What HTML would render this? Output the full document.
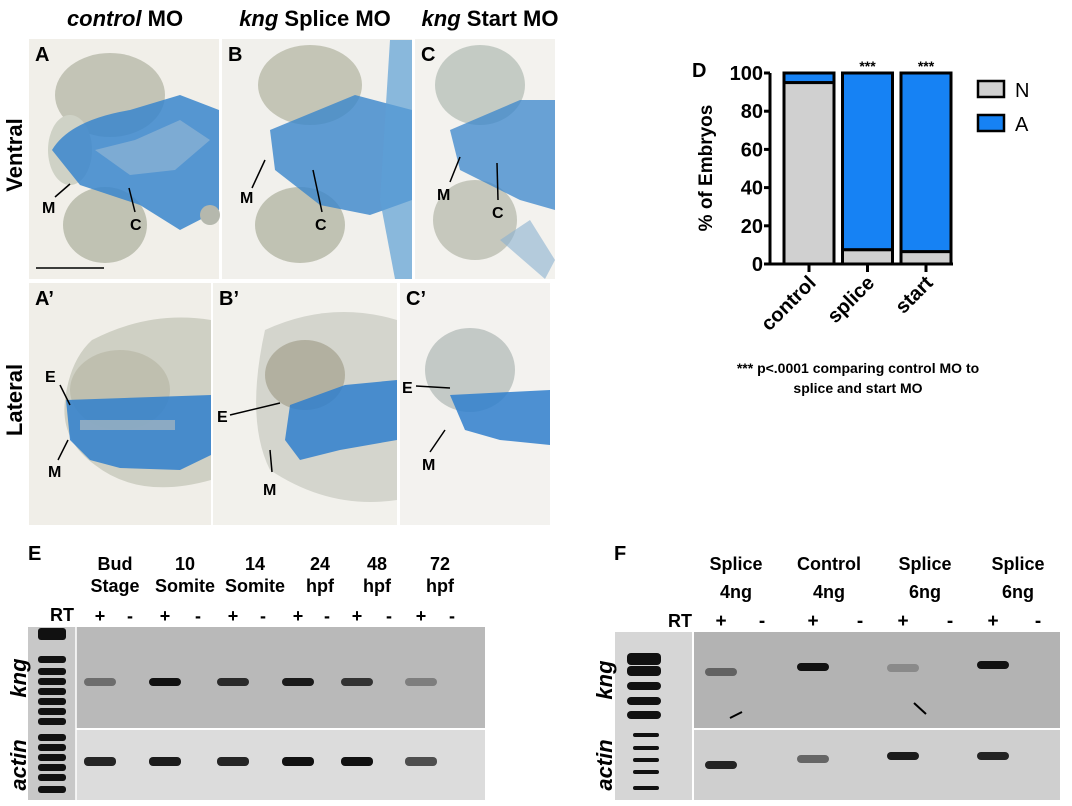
<!DOCTYPE html>
<html><head><meta charset="utf-8"><style>
html,body{margin:0;padding:0;background:#fff;width:1072px;height:806px;overflow:hidden}
svg{display:block;font-family:"Liberation Sans",Arial,sans-serif}
</style></head><body>
<svg id="fig" width="1072" height="806" viewBox="0 0 1072 806">
<!-- column headers -->
<g font-size="22" font-weight="bold" text-anchor="middle">
<text x="125" y="26"><tspan font-style="italic">control</tspan> MO</text>
<text x="315" y="26"><tspan font-style="italic">kng</tspan> Splice MO</text>
<text x="490" y="26"><tspan font-style="italic">kng</tspan> Start MO</text>
</g>
<text transform="translate(22,155) rotate(-90)" font-size="22" font-weight="bold" text-anchor="middle">Ventral</text>
<text transform="translate(22,400) rotate(-90)" font-size="22" font-weight="bold" text-anchor="middle">Lateral</text>

<!-- Panel A -->
<g>
<rect x="29" y="39" width="190" height="240" fill="#f1efe9"/>
<ellipse cx="110" cy="95" rx="55" ry="42" fill="#c3c4b6"/>
<ellipse cx="105" cy="225" rx="42" ry="38" fill="#c0c2b3"/>
<ellipse cx="70" cy="150" rx="22" ry="35" fill="#cfd2c6"/>
<path d="M52 150 Q70 120 130 110 L180 95 L219 110 L219 210 L180 230 L140 205 L80 185 Z" fill="#3a86cc" opacity="0.85"/>
<path d="M95 150 L135 140 L180 120 L210 140 L175 170 L130 175 Z" fill="#8fb4d4" opacity="0.7"/>
<circle cx="210" cy="215" r="10" fill="#b5b8ad"/>
<text x="35" y="61" font-size="20" font-weight="bold">A</text>
<line x1="36" y1="268" x2="104" y2="268" stroke="#000" stroke-width="1.5"/>
<text x="42" y="213" font-size="16" font-weight="bold">M</text>
<text x="130" y="230" font-size="16" font-weight="bold">C</text>
<line x1="55" y1="197" x2="70" y2="184" stroke="#000" stroke-width="1.5"/>
<line x1="135" y1="212" x2="129" y2="188" stroke="#000" stroke-width="1.5"/>
</g>
<!-- Panel B -->
<g>
<rect x="222" y="39" width="190" height="240" fill="#f1f0ec"/>
<ellipse cx="310" cy="85" rx="52" ry="40" fill="#c4c5b6"/>
<ellipse cx="300" cy="225" rx="45" ry="38" fill="#c0c2b3"/>
<path d="M270 130 L355 95 L412 110 L412 200 L370 215 L320 205 L275 170 Z" fill="#3a86cc" opacity="0.8"/>
<path d="M390 40 L412 40 L412 279 L395 279 L380 200 Z" fill="#5d9fd6" opacity="0.7"/>
<text x="228" y="61" font-size="20" font-weight="bold">B</text>
<text x="240" y="203" font-size="16" font-weight="bold">M</text>
<text x="315" y="230" font-size="16" font-weight="bold">C</text>
<line x1="252" y1="188" x2="265" y2="160" stroke="#000" stroke-width="1.5"/>
<line x1="322" y1="212" x2="313" y2="170" stroke="#000" stroke-width="1.5"/>
</g>
<!-- Panel C -->
<g>
<rect x="415" y="39" width="140" height="240" fill="#f3f2ee"/>
<ellipse cx="480" cy="85" rx="45" ry="40" fill="#c4cbc4"/>
<ellipse cx="475" cy="220" rx="42" ry="40" fill="#c6c8bd"/>
<path d="M450 130 L520 100 L555 100 L555 210 L520 200 L460 170 Z" fill="#3a86cc" opacity="0.75"/>
<path d="M500 240 L530 220 L555 260 L545 279 Z" fill="#8ab0d0" opacity="0.6"/>
<text x="421" y="61" font-size="20" font-weight="bold">C</text>
<text x="437" y="200" font-size="16" font-weight="bold">M</text>
<text x="492" y="218" font-size="16" font-weight="bold">C</text>
<line x1="450" y1="182" x2="460" y2="157" stroke="#000" stroke-width="1.5"/>
<line x1="498" y1="200" x2="497" y2="163" stroke="#000" stroke-width="1.5"/>
</g>
<!-- Panel A' -->
<g>
<rect x="29" y="283" width="182" height="242" fill="#f0eee8"/>
<path d="M92 340 Q150 310 211 320 L211 480 Q140 500 95 465 Q60 440 65 400 Q70 360 92 340 Z" fill="#cfd0c4"/>
<ellipse cx="120" cy="390" rx="50" ry="40" fill="#bfbfaf"/>
<path d="M66 400 L211 395 L211 455 L180 470 L120 468 L90 460 L70 440 Z" fill="#2f7fcc" opacity="0.85"/>
<path d="M80 420 L175 420 L175 430 L80 430 Z" fill="#a9b8bf" opacity="0.7"/>
<text x="35" y="305" font-size="20" font-weight="bold">A’</text>
<text x="45" y="382" font-size="16" font-weight="bold">E</text>
<text x="48" y="477" font-size="16" font-weight="bold">M</text>
<line x1="60" y1="385" x2="70" y2="405" stroke="#000" stroke-width="1.5"/>
<line x1="58" y1="460" x2="68" y2="440" stroke="#000" stroke-width="1.5"/>
</g>
<!-- Panel B' -->
<g>
<rect x="213" y="283" width="184" height="242" fill="#f2f1ec"/>
<path d="M265 330 Q330 300 397 320 L397 500 Q330 510 270 470 Q245 420 265 330 Z" fill="#d4d5cd"/>
<ellipse cx="305" cy="375" rx="40" ry="35" fill="#b2b0a0"/>
<path d="M290 405 L345 385 L397 380 L397 440 L340 450 L300 460 L285 440 Z" fill="#2f7fcc" opacity="0.85"/>
<text x="219" y="305" font-size="20" font-weight="bold">B’</text>
<text x="217" y="422" font-size="16" font-weight="bold">E</text>
<text x="263" y="495" font-size="16" font-weight="bold">M</text>
<line x1="230" y1="415" x2="280" y2="403" stroke="#000" stroke-width="1.5"/>
<line x1="272" y1="472" x2="270" y2="450" stroke="#000" stroke-width="1.5"/>
</g>
<!-- Panel C' -->
<g>
<rect x="400" y="283" width="150" height="242" fill="#f3f2ef"/>
<ellipse cx="470" cy="370" rx="45" ry="42" fill="#c3c9c6"/>
<path d="M450 395 L550 390 L550 445 L500 440 L465 430 Z" fill="#2f7fcc" opacity="0.85"/>
<text x="406" y="305" font-size="20" font-weight="bold">C’</text>
<text x="402" y="393" font-size="16" font-weight="bold">E</text>
<text x="422" y="470" font-size="16" font-weight="bold">M</text>
<line x1="416" y1="386" x2="450" y2="388" stroke="#000" stroke-width="1.5"/>
<line x1="430" y1="452" x2="445" y2="430" stroke="#000" stroke-width="1.5"/>
</g>

<!-- Panel D chart -->
<g id="chart">
<text x="692" y="77" font-size="20" font-weight="bold">D</text>
</g>
<text x="858" y="373" font-size="14" font-weight="bold" text-anchor="middle">*** p&lt;.0001 comparing control MO to</text>
<text x="858" y="393" font-size="14" font-weight="bold" text-anchor="middle">splice and start MO</text>

<!-- Panel E -->
<g>
<text x="28" y="560" font-size="20" font-weight="bold">E</text>
<g font-size="18" font-weight="bold" text-anchor="middle">
<text x="115" y="570">Bud</text><text x="115" y="592">Stage</text>
<text x="185" y="570">10</text><text x="185" y="592">Somite</text>
<text x="255" y="570">14</text><text x="255" y="592">Somite</text>
<text x="320" y="570">24</text><text x="320" y="592">hpf</text>
<text x="377" y="570">48</text><text x="377" y="592">hpf</text>
<text x="440" y="570">72</text><text x="440" y="592">hpf</text>
<text x="62" y="621">RT</text>
</g>
<g id="laneE" font-size="18" font-weight="bold" text-anchor="middle"></g>
<rect x="28" y="627" width="457" height="101" fill="#b9b9b9"/>
<rect x="28" y="730" width="457" height="70" fill="#dcdcdc"/>
<rect x="28" y="627" width="48" height="173" fill="#c8c8c8"/>
<line x1="76" y1="627" x2="76" y2="800" stroke="#fff" stroke-width="1.5"/>
<g id="ladderE" fill="#111"></g>
<g id="bandsE"></g>
<text transform="translate(26,678) rotate(-90)" font-size="22" font-weight="bold" font-style="italic" text-anchor="middle">kng</text>
<text transform="translate(26,765) rotate(-90)" font-size="22" font-weight="bold" font-style="italic" text-anchor="middle">actin</text>
</g>

<!-- Panel F -->
<g>
<text x="614" y="560" font-size="20" font-weight="bold">F</text>
<g font-size="18" font-weight="bold" text-anchor="middle">
<text x="736" y="570">Splice</text><text x="736" y="598">4ng</text>
<text x="829" y="570">Control</text><text x="829" y="598">4ng</text>
<text x="925" y="570">Splice</text><text x="925" y="598">6ng</text>
<text x="1018" y="570">Splice</text><text x="1018" y="598">6ng</text>
<text x="680" y="627">RT</text>
</g>
<g id="laneF" font-size="19" font-weight="bold" text-anchor="middle"></g>
<rect x="615" y="632" width="445" height="96" fill="#b3b3b3"/>
<rect x="615" y="730" width="445" height="70" fill="#cfcfcf"/>
<rect x="615" y="632" width="78" height="168" fill="#d6d6d6"/>
<line x1="693" y1="632" x2="693" y2="800" stroke="#fff" stroke-width="2"/>
<g id="ladderF" fill="#111"></g>
<g id="bandsF"></g>
<line x1="730" y1="718" x2="742" y2="712" stroke="#000" stroke-width="2"/>
<line x1="926" y1="714" x2="914" y2="703" stroke="#000" stroke-width="2"/>
<text transform="translate(612,680) rotate(-90)" font-size="22" font-weight="bold" font-style="italic" text-anchor="middle">kng</text>
<text transform="translate(612,765) rotate(-90)" font-size="22" font-weight="bold" font-style="italic" text-anchor="middle">actin</text>
</g>
</svg>
<script>
const categories = ["control","splice","start"];
const normalPct = [95, 7.5, 6.5];
const abnormalPct = [5, 92.5, 93.5];
const yTicks = [0,20,40,60,80,100];
const sigMarks = ["","***","***"];
const legendLabels = ["N","A"];

const NS="http://www.w3.org/2000/svg";
const chart=document.getElementById('chart');
const x0=770, yBase=264, yTop=73, barStart=784, barW=50, barGap=58.5;
const y=v=>yBase-(v/100)*(yBase-yTop);
const bx=i=>barStart+i*barGap;
function mk(tag,attrs,parent){const e=document.createElementNS(NS,tag);for(const k in attrs)e.setAttribute(k,attrs[k]);(parent||chart).appendChild(e);return e;}
categories.forEach((c,i)=>{
  const n=mk('rect',{x:bx(i),y:y(normalPct[i]),width:barW,height:yBase-y(normalPct[i]),fill:'#d0d0d0',stroke:'#000','stroke-width':3});
  
  
  const top=normalPct[i]+abnormalPct[i];
  const a=mk('rect',{x:bx(i),y:y(top),width:barW,height:y(normalPct[i])-y(top),fill:'#1682f4',stroke:'#000','stroke-width':3});
  
  
  mk('line',{x1:bx(i)+barW/2,x2:bx(i)+barW/2,y1:yBase,y2:yBase+8,stroke:'#000','stroke-width':3});
  const lab=mk('text',{transform:`translate(${bx(i)+barW/2+8},${yBase+20}) rotate(-45)`,'font-size':20,'font-weight':'bold','text-anchor':'end'});
  lab.textContent=c;
  
  
  if(sigMarks[i]){const s=mk('text',{x:bx(i)+barW/2,y:yTop-2,'font-size':14,'font-weight':'bold','text-anchor':'middle'});s.textContent=sigMarks[i];
    
    }
});
mk('line',{x1:x0,x2:x0,y1:yTop,y2:yBase+1.5,stroke:'#000','stroke-width':3});
mk('line',{x1:x0,x2:953,y1:yBase,y2:yBase,stroke:'#000','stroke-width':3});
yTicks.forEach(v=>{
  mk('line',{x1:x0-6,x2:x0,y1:y(v),y2:y(v),stroke:'#000','stroke-width':3});
  const t=mk('text',{x:x0-7,y:y(v)+7,'font-size':20,'font-weight':'bold','text-anchor':'end'});t.textContent=v;
  
  
});
const yt=mk('text',{transform:`translate(712,168) rotate(-90)`,'font-size':19,'font-weight':'bold','text-anchor':'middle'});yt.textContent='% of Embryos';


legendLabels.forEach((l,i)=>{
  const r=mk('rect',{x:978,y:81+i*34,width:26,height:16,fill:i?'#1682f4':'#d0d0d0',stroke:'#000','stroke-width':2.5});
  
  
  const t=mk('text',{x:1015,y:97+i*34,'font-size':20});t.textContent=l;
  
  
});
// Gel E
const lanesE=[100,130,165,198,233,263,298,327,357,389,421,452];
const kngE=[0.45,0,1,0,0.85,0,0.95,0,0.8,0,0.35,0];
const actE=[0.9,0,0.95,0,0.9,0,1,0,1,0,0.7,0];
const gE=document.getElementById('bandsE'), lE=document.getElementById('laneE');
lanesE.forEach((x,i)=>{
  const t=mk('text',{x:x,y:622},lE);t.textContent=i%2?'-':'+';
  if(kngE[i]) mk('rect',{x:x-16,y:678,width:32,height:8,rx:4,fill:'#111','fill-opacity':kngE[i]},gE);
  if(actE[i]) mk('rect',{x:x-16,y:757,width:32,height:9,rx:4,fill:'#111','fill-opacity':actE[i]},gE);
});
const ldE=document.getElementById('ladderE');
[632,660,672,682,692,702,712,722,738,748,758,768,778,790].forEach((yy,i)=>mk('rect',{x:38,y:yy-4,width:28,height:i==0?12:7,rx:3},ldE));
// Gel F
const lanesF=[721,762,813,860,903,950,993,1038];
const kngF=[[672,0.5],[0,0],[667,1],[0,0],[668,0.25],[0,0],[665,1],[0,0]];
const actF=[[765,0.9],[0,0],[759,0.55],[0,0],[756,0.95],[0,0],[756,0.9],[0,0]];
const gF=document.getElementById('bandsF'), lF=document.getElementById('laneF');
lanesF.forEach((x,i)=>{
  const t=mk('text',{x:x,y:627},lF);t.textContent=i%2?'-':'+';
  if(kngF[i][1]) mk('rect',{x:x-16,y:kngF[i][0]-4,width:32,height:8,rx:4,fill:'#111','fill-opacity':kngF[i][1]},gF);
  if(actF[i][1]) mk('rect',{x:x-16,y:actF[i][0]-4,width:32,height:8,rx:4,fill:'#111','fill-opacity':actF[i][1]},gF);
});
const ldF=document.getElementById('ladderF');
[[659,12],[671,10],[686,8],[701,8],[715,8]].forEach(a=>mk('rect',{x:627,y:a[0]-a[1]/2,width:34,height:a[1],rx:4},ldF));
[735,748,760,772,788].forEach(yy=>mk('rect',{x:633,y:yy-2,width:26,height:4,rx:2},ldF));
</script>
</body></html>
